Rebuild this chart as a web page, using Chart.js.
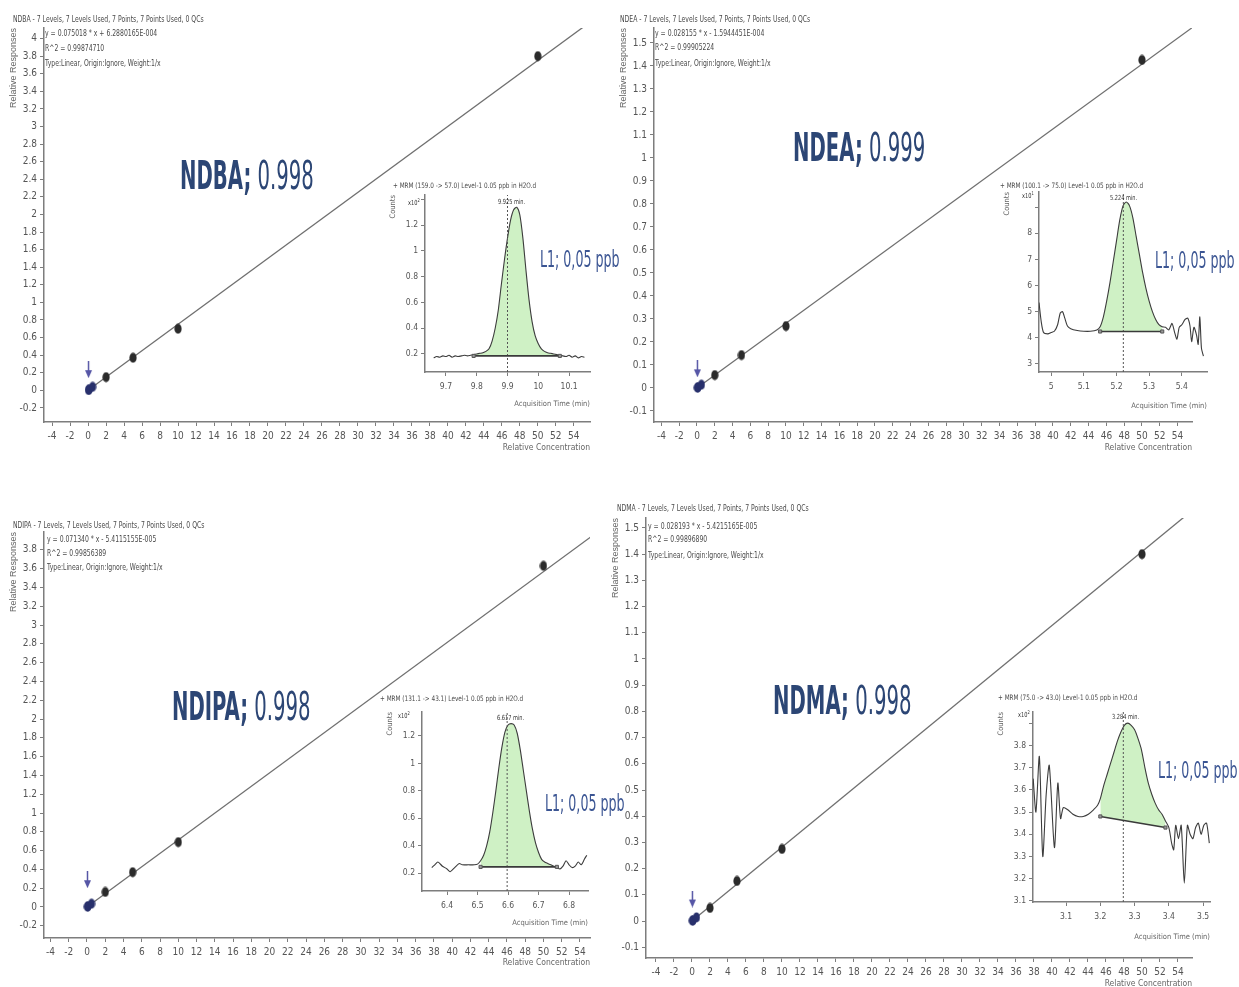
<!DOCTYPE html>
<html>
<head>
<meta charset="utf-8">
<title>Nitrosamine calibration curves</title>
<script src="https://cdn.jsdelivr.net/npm/chart.js@4.4.1/dist/chart.umd.min.js"></script>
<style>
  body { margin: 0; background: #fff; }
  #page { position: relative; width: 1239px; height: 987px; overflow: hidden;
          font-family: 'Liberation Sans Narrow', 'DejaVu Sans Condensed', sans-serif; }
  #page canvas { position: absolute; z-index: 1; }
  .note { position: absolute; z-index: 2; white-space: nowrap; color: #4a4a4a; font-size: 8px; line-height: 9px;
          transform: scaleX(0.85); transform-origin: 0 0; }
  .big { position: absolute; z-index: 2; white-space: nowrap; color: #2c4675; font-size: 27px; line-height: 27px;
         transform: scale(0.81, 1.45); transform-origin: 0 0; }
  .big b { font-weight: bold; }
  .lvl { position: absolute; z-index: 2; white-space: nowrap; color: #3b5593; font-size: 18px; line-height: 18px;
         transform: scale(0.78, 1.25); transform-origin: 0 0; }
  .rt { position: absolute; z-index: 2; white-space: nowrap; color: #333; font-size: 7px; line-height: 8px;
        transform: scaleX(0.8); transform-origin: 0 0; }
  .rt sup { font-size: 5px; }
</style>
</head>
<body>
<div id="page">
  <!-- NDBA -->
  <div class="note" style="left:13px;top:15px">NDBA - 7 Levels, 7 Levels Used, 7 Points, 7 Points Used, 0 QCs</div>
  <div class="note" style="left:45px;top:29px">y = 0.075018 * x + 6.2880165E-004</div>
  <div class="note" style="left:45px;top:44px">R^2 = 0.99874710</div>
  <div class="note" style="left:45px;top:59px">Type:Linear, Origin:Ignore, Weight:1/x</div>
  <div class="big" style="left:180px;top:156px"><b>NDBA;</b> 0.998</div>
  <div class="note" style="left:393px;top:181px;font-size:7.5px">+ MRM (159.0 -&gt; 57.0) Level-1 0.05 ppb in H2O.d</div>
  <div class="rt" style="left:498px;top:198px">9.925 min.</div>
  <div class="rt" style="left:408px;top:196px">x10<sup>2</sup></div>
  <div class="lvl" style="left:540px;top:248px">L1; 0,05 ppb</div>

  <!-- NDEA -->
  <div class="note" style="left:620px;top:15px">NDEA - 7 Levels, 7 Levels Used, 7 Points, 7 Points Used, 0 QCs</div>
  <div class="note" style="left:655px;top:29px">y = 0.028155 * x - 1.5944451E-004</div>
  <div class="note" style="left:655px;top:43px">R^2 = 0.99905224</div>
  <div class="note" style="left:655px;top:59px">Type:Linear, Origin:Ignore, Weight:1/x</div>
  <div class="big" style="left:793px;top:128px"><b>NDEA;</b> 0.999</div>
  <div class="note" style="left:1000px;top:181px;font-size:7.5px">+ MRM (100.1 -&gt; 75.0) Level-1 0.05 ppb in H2O.d</div>
  <div class="rt" style="left:1110px;top:194px">5.224 min.</div>
  <div class="rt" style="left:1022px;top:189px">x10<sup>1</sup></div>
  <div class="lvl" style="left:1155px;top:249px">L1; 0,05 ppb</div>

  <!-- NDIPA -->
  <div class="note" style="left:13px;top:521px">NDIPA - 7 Levels, 7 Levels Used, 7 Points, 7 Points Used, 0 QCs</div>
  <div class="note" style="left:47px;top:535px">y = 0.071340 * x - 5.4115155E-005</div>
  <div class="note" style="left:47px;top:549px">R^2 = 0.99856389</div>
  <div class="note" style="left:47px;top:563px">Type:Linear, Origin:Ignore, Weight:1/x</div>
  <div class="big" style="left:172px;top:687px"><b>NDIPA;</b> 0.998</div>
  <div class="note" style="left:380px;top:694px;font-size:7.5px">+ MRM (131.1 -&gt; 43.1) Level-1 0.05 ppb in H2O.d</div>
  <div class="rt" style="left:497px;top:714px">6.617 min.</div>
  <div class="rt" style="left:398px;top:709px">x10<sup>2</sup></div>
  <div class="lvl" style="left:545px;top:792px">L1; 0,05 ppb</div>

  <!-- NDMA -->
  <div class="note" style="left:617px;top:504px">NDMA - 7 Levels, 7 Levels Used, 7 Points, 7 Points Used, 0 QCs</div>
  <div class="note" style="left:648px;top:522px">y = 0.028193 * x - 5.4215165E-005</div>
  <div class="note" style="left:648px;top:535px">R^2 = 0.99896890</div>
  <div class="note" style="left:648px;top:551px">Type:Linear, Origin:Ignore, Weight:1/x</div>
  <div class="big" style="left:773px;top:681px"><b>NDMA;</b> 0.998</div>
  <div class="note" style="left:998px;top:693px;font-size:7.5px">+ MRM (75.0 -&gt; 43.0) Level-1 0.05 ppb in H2O.d</div>
  <div class="rt" style="left:1112px;top:713px">3.284 min.</div>
  <div class="rt" style="left:1018px;top:708px">x10<sup>2</sup></div>
  <div class="lvl" style="left:1158px;top:759px">L1; 0,05 ppb</div>
</div>

<script>
// calibration levels (relative concentration) and relative responses
var levels = [0.05, 0.1, 0.5, 2, 5, 10, 50];

var ndbaResp  = [0.004, 0.008, 0.04, 0.15, 0.37, 0.70, 3.80];
var ndeaResp  = [0.0012, 0.0027, 0.014, 0.056, 0.143, 0.269, 1.426];
var ndipaResp = [0.0035, 0.007, 0.035, 0.16, 0.37, 0.69, 3.63];
var ndmaResp  = [0.0014, 0.0028, 0.014, 0.05, 0.153, 0.275, 1.40];

var fitSlope     = [0.075018, 0.028155, 0.071340, 0.028193];
var fitIntercept = [6.2880165E-004, -1.5944451E-004, -5.4115155E-005, -5.4215165E-005];
var fitX = [0, 60];
var arrowY = [0.235, 0.083, 0.29, 0.084];

// level 1 chromatograms: acquisition time (min) vs counts
var ndbaTime = [9.66, 9.67, 9.68, 9.69, 9.70, 9.71, 9.72, 9.73, 9.74, 9.75,
                9.76, 9.77, 9.78, 9.79, 9.80, 9.81, 9.82, 9.83, 9.84, 9.85,
                9.86, 9.87, 9.88, 9.89, 9.90, 9.91, 9.92, 9.93, 9.94, 9.95,
                9.96, 9.97, 9.98, 9.99, 10.00, 10.01, 10.02, 10.03, 10.04, 10.05,
                10.06, 10.07, 10.08, 10.09, 10.10, 10.11, 10.12, 10.13, 10.14, 10.15];
var ndbaCounts = [0.17, 0.18, 0.175, 0.185, 0.18, 0.19, 0.175, 0.185, 0.18, 0.185,
                  0.19, 0.185, 0.19, 0.195, 0.20, 0.205, 0.21, 0.22, 0.24, 0.30,
                  0.40, 0.54, 0.74, 0.93, 1.10, 1.24, 1.32, 1.34, 1.28, 1.10,
                  0.85, 0.62, 0.45, 0.34, 0.28, 0.24, 0.22, 0.21, 0.205, 0.20,
                  0.195, 0.19, 0.185, 0.18, 0.19, 0.175, 0.185, 0.17, 0.18, 0.175];
var ndbaPeak = [9.79, 10.07];
var ndbaBase = [0.185, 0.185];
var ndbaRT = 9.90;

var ndeaTime = [4.963, 4.970, 4.977, 4.990, 5.000, 5.010, 5.020, 5.028, 5.035, 5.042,
                5.050, 5.060, 5.080, 5.100, 5.120, 5.140, 5.150, 5.160, 5.170, 5.180,
                5.190, 5.200, 5.210, 5.220, 5.230, 5.240, 5.250, 5.260, 5.270, 5.280,
                5.290, 5.300, 5.310, 5.320, 5.330, 5.340, 5.350, 5.360, 5.370, 5.378,
                5.385, 5.392, 5.400, 5.410, 5.418, 5.425, 5.430, 5.437, 5.445, 5.450,
                5.455, 5.460, 5.466];
var ndeaCounts = [5.35, 4.60, 4.20, 4.15, 4.20, 4.25, 4.50, 4.95, 5.00, 4.75,
                  4.45, 4.35, 4.28, 4.25, 4.25, 4.30, 4.42, 4.80, 5.40, 6.10,
                  6.90, 7.70, 8.50, 9.05, 9.20, 9.05, 8.60, 7.90, 7.20, 6.50,
                  5.90, 5.40, 5.00, 4.70, 4.50, 4.42, 4.40, 4.30, 4.55, 4.20,
                  3.95, 4.40, 4.50, 4.70, 4.75, 4.45, 3.85, 4.40, 4.10, 3.75,
                  4.80, 3.60, 3.30];
var ndeaPeak = [5.15, 5.34];
var ndeaBase = [4.24, 4.24];
var ndeaRT = 5.221;

var ndipaTime = [6.350, 6.360, 6.370, 6.385, 6.400, 6.410, 6.425, 6.440, 6.450, 6.470,
                 6.490, 6.500, 6.510, 6.520, 6.530, 6.540, 6.550, 6.560, 6.570, 6.580,
                 6.590, 6.600, 6.610, 6.620, 6.630, 6.640, 6.650, 6.660, 6.670, 6.680,
                 6.690, 6.700, 6.710, 6.720, 6.730, 6.740, 6.750, 6.760, 6.770, 6.780,
                 6.790, 6.800, 6.810, 6.820, 6.830, 6.840, 6.850, 6.858];
var ndipaCounts = [0.24, 0.26, 0.28, 0.25, 0.23, 0.21, 0.24, 0.27, 0.26, 0.26,
                   0.26, 0.265, 0.29, 0.33, 0.40, 0.50, 0.64, 0.80, 0.97, 1.12,
                   1.23, 1.28, 1.29, 1.28, 1.22, 1.10, 0.95, 0.80, 0.65, 0.52,
                   0.42, 0.35, 0.30, 0.28, 0.27, 0.26, 0.25, 0.24, 0.23, 0.25,
                   0.29, 0.26, 0.24, 0.25, 0.28, 0.26, 0.30, 0.33];
var ndipaPeak = [6.51, 6.76];
var ndipaBase = [0.245, 0.245];
var ndipaRT = 6.597;

var ndmaTime = [3.004, 3.012, 3.022, 3.032, 3.042, 3.051, 3.066, 3.076, 3.084, 3.092,
                3.105, 3.120, 3.135, 3.150, 3.165, 3.180, 3.192, 3.200, 3.210, 3.220,
                3.230, 3.240, 3.250, 3.260, 3.270, 3.280, 3.290, 3.300, 3.310, 3.320,
                3.330, 3.340, 3.350, 3.360, 3.370, 3.380, 3.390, 3.400, 3.408, 3.414,
                3.420, 3.428, 3.436, 3.445, 3.454, 3.462, 3.470, 3.478, 3.486, 3.494,
                3.502, 3.510, 3.518];
var ndmaCounts = [3.65, 3.50, 3.75, 3.30, 3.58, 3.71, 3.34, 3.63, 3.47, 3.52,
                  3.51, 3.49, 3.48, 3.48, 3.49, 3.51, 3.53, 3.56, 3.62, 3.67,
                  3.72, 3.77, 3.82, 3.86, 3.89, 3.90, 3.89, 3.87, 3.83, 3.78,
                  3.70, 3.63, 3.58, 3.54, 3.51, 3.49, 3.46, 3.43, 3.36, 3.33,
                  3.44, 3.38, 3.44, 3.18, 3.44, 3.40, 3.38, 3.43, 3.45, 3.40,
                  3.44, 3.45, 3.36];
var ndmaPeak = [3.20, 3.39];
var ndmaBase = [3.48, 3.43];
var ndmaRT = 3.267;

var FONT = "'Liberation Sans Narrow', 'DejaVu Sans Condensed', sans-serif";
Chart.defaults.font.family = FONT;

function markImage(w, h, paint) {
    var c = document.createElement('canvas');
    c.width = w;
    c.height = h;
    paint(c.getContext('2d'));
    return c;
}
function dot(color) {
    return markImage(8, 11, function (g) {
        g.fillStyle = color;
        g.beginPath();
        g.ellipse(4, 5.5, 3.6, 5, 0, 0, 2 * Math.PI);
        g.fill();
    });
}
var navyDot = dot('#28306c');
var darkDot = dot('#2b2b2b');
var arrowMark = markImage(9, 17, function (g) {
    g.strokeStyle = '#5656a6';
    g.fillStyle = '#5656a6';
    g.lineWidth = 1.5;
    g.beginPath(); g.moveTo(4.5, 0); g.lineTo(4.5, 11); g.stroke();
    g.beginPath(); g.moveTo(1, 9); g.lineTo(8, 9); g.lineTo(4.5, 17); g.closePath(); g.fill();
});

function addCanvas(box) {
    var cv = document.createElement('canvas');
    cv.width = box.w;
    cv.height = box.h;
    cv.style.left = box.x + 'px';
    cv.style.top = box.y + 'px';
    cv.style.width = box.w + 'px';
    cv.style.height = box.h + 'px';
    document.getElementById('page').appendChild(cv);
    return cv;
}

function scaleOpts(s, horizontal) {
    return {
        type: 'linear',
        min: s.min,
        max: s.max,
        afterFit: function (sc) {
            if (horizontal) sc.height = s.size; else sc.width = s.size;
        },
        border: { color: '#7d7d7d', width: 1.5 },
        grid: { drawOnChartArea: false, tickLength: 4, color: '#7d7d7d' },
        ticks: {
            stepSize: s.step,
            includeBounds: false,
            autoSkip: false,
            maxRotation: 0,
            padding: s.pad,
            color: '#555',
            font: { size: s.font },
            callback: function (v) {
                if (s.hideAbove !== undefined && v > s.hideAbove) return '';
                return String(+v.toFixed(3));
            }
        },
        title: {
            display: true,
            text: s.title,
            align: 'end',
            color: '#666',
            padding: 0,
            font: { size: s.titleFont, family: s.titleFamily || FONT }
        }
    };
}

function draw(box, area, xs, ys, datasets) {
    return new Chart(addCanvas(box), {
        type: 'scatter',
        data: { datasets: datasets },
        options: {
            responsive: false,
            animation: false,
            devicePixelRatio: 1,
            events: [],
            layout: {
                padding: {
                    left: area.l - box.x - ys.size,
                    top: area.t - box.y,
                    right: box.x + box.w - area.r,
                    bottom: box.y + box.h - area.b - xs.size
                }
            },
            plugins: { legend: { display: false }, tooltip: { enabled: false } },
            scales: { x: scaleOpts(xs, true), y: scaleOpts(ys, false) }
        }
    });
}

function calibration(resp, k) {
    return [
        { data: [{ x: levels[0], y: arrowY[k] }], pointStyle: arrowMark, pointRadius: 5 },
        {
            data: levels.map(function (x, i) { return { x: x, y: resp[i] }; }),
            pointRadius: 4,
            pointStyle: function (c) { return c.dataIndex < 3 ? navyDot : darkDot; }
        },
        {
            data: fitX.map(function (x) { return { x: x, y: fitSlope[k] * x + fitIntercept[k] }; }),
            showLine: true, pointRadius: 0, borderColor: '#707070', borderWidth: 1.3
        }
    ];
}

function chromatogram(time, counts, peak, base, rt, ys) {
    var trace = time.map(function (t, i) { return { x: t, y: counts[i] }; });
    return [
        {
            data: [{ x: peak[0], y: base[0] }, { x: peak[1], y: base[1] }],
            showLine: true, borderColor: '#3a3a3a', borderWidth: 1.6,
            pointStyle: 'rect', pointRadius: 2.2,
            pointBackgroundColor: '#9a9a9a', pointBorderColor: '#555', pointBorderWidth: 1
        },
        {
            data: [{ x: rt, y: ys.min }, { x: rt, y: ys.max }],
            showLine: true, pointRadius: 0, borderColor: '#555', borderWidth: 1, borderDash: [2, 2]
        },
        { data: trace, showLine: true, pointRadius: 0, borderColor: '#3c3c3c', borderWidth: 1.1, tension: 0.25 },
        {
            data: trace.filter(function (p) { return p.x >= peak[0] && p.x <= peak[1]; }),
            showLine: true, pointRadius: 0, borderColor: 'transparent', borderWidth: 1, tension: 0.25,
            fill: 0, backgroundColor: 'rgba(204, 240, 194, 0.95)'
        }
    ];
}

function mainX(min, max, size) {
    return { min: min, max: max, step: 2, font: 10, pad: 4, size: size, title: 'Relative Concentration', titleFont: 8.5 };
}
function mainY(min, max, step) {
    return { min: min, max: max, step: step, font: 10, pad: 3, size: 36,
             title: 'Relative Responses', titleFont: 9, titleFamily: "'Liberation Sans', sans-serif" };
}
function insetX(min, max, size) {
    return { min: min, max: max, step: 0.1, font: 8.5, pad: 6, size: size, title: 'Acquisition Time (min)', titleFont: 7.5 };
}
function insetY(min, max, step, hideAbove) {
    return { min: min, max: max, step: step, font: 8.5, pad: 3, size: 36, title: 'Counts', titleFont: 7.5, hideAbove: hideAbove };
}

// calibration curves
draw({ x: 0, y: 0, w: 605, h: 455 }, { l: 44, t: 28, r: 590, b: 422 },
     mainX(-4.9, 55.8, 31), mainY(-0.36, 4.12, 0.2), calibration(ndbaResp, 0));
draw({ x: 610, y: 0, w: 629, h: 455 }, { l: 654, t: 28, r: 1192, b: 422 },
     mainX(-4.83, 55.62, 31), mainY(-0.148, 1.565, 0.1), calibration(ndeaResp, 1));
draw({ x: 0, y: 500, w: 605, h: 470 }, { l: 44, t: 532, r: 590, b: 938 },
     mainX(-4.71, 55.1, 30), mainY(-0.33, 3.99, 0.2), calibration(ndipaResp, 2));
draw({ x: 602, y: 495, w: 637, h: 495 }, { l: 646, t: 518, r: 1192, b: 958 },
     mainX(-5.11, 55.56, 31), mainY(-0.141, 1.538, 0.1), calibration(ndmaResp, 3));

// level 1 chromatogram insets
var ys1 = insetY(0.06, 1.435, 0.2, 1.3);
draw({ x: 389, y: 185, w: 210, h: 225 }, { l: 425, t: 195, r: 590, b: 372 },
     insetX(9.632, 10.168, 37), ys1, chromatogram(ndbaTime, ndbaCounts, ndbaPeak, ndbaBase, ndbaRT, ys1));
var ys2 = insetY(2.69, 9.58, 1, 8.5);
draw({ x: 1003, y: 182, w: 214, h: 230 }, { l: 1039, t: 192, r: 1207, b: 372 },
     insetX(4.963, 5.477, 39), ys2, chromatogram(ndeaTime, ndeaCounts, ndeaPeak, ndeaBase, ndeaRT, ys2));
var ys3 = insetY(0.069, 1.375, 0.2);
draw({ x: 386, y: 702, w: 212, h: 230 }, { l: 422, t: 712, r: 588, b: 891 },
     insetX(6.318, 6.862, 37), ys3, chromatogram(ndipaTime, ndipaCounts, ndipaPeak, ndipaBase, ndipaRT, ys3));
var ys4 = insetY(3.095, 3.95, 0.1, 3.85);
draw({ x: 997, y: 702, w: 230, h: 245 }, { l: 1033, t: 712, r: 1210, b: 902 },
     insetX(3.0035, 3.52, 40), ys4, chromatogram(ndmaTime, ndmaCounts, ndmaPeak, ndmaBase, ndmaRT, ys4));
</script>
</body>
</html>
